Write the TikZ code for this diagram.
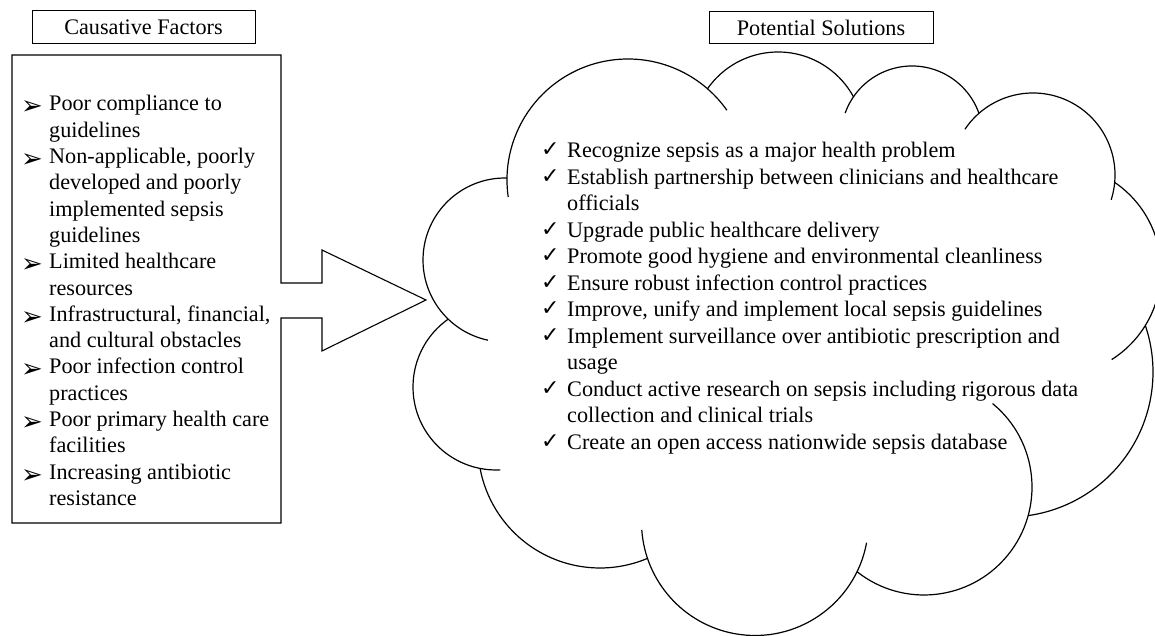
\documentclass[tikz,border=0pt]{standalone}
\usepackage{fontspec}
\setmainfont{Liberation Serif}
\newfontfamily\symfont{DejaVu Sans}
\begin{document}
\begin{tikzpicture}[x=1pt,y=1pt,
  frame/.style={draw=black, line width=1.1pt},
  cloudarc/.style={draw=black, line width=1.2pt},
  txt/.style={anchor=base west, inner sep=0pt, font=\fontsize{22.2}{26}\selectfont},
  arrowbullet/.style={anchor=base west, inner sep=0pt, font=\symfont\fontsize{26}{30}\selectfont},
  checkbullet/.style={anchor=base west, inner sep=0pt, font=\symfont\fontsize{22}{26}\selectfont},
  title/.style={draw=black, line width=1pt, minimum width=223pt, minimum height=33pt,
    inner sep=0pt, font=\fontsize{22.2}{26}\selectfont}]
\useasboundingbox (0,0) rectangle (1155,636);

% headings
\node[title] (cf) at (143.5,608.5) {Causative Factors};
\node[title, minimum width=224pt, minimum height=32pt] (ps) at (821,608) {Potential Solutions};

% list box with the block arrow cut into its right side
\draw[frame] (12,581) -- (281,581) -- (281,353) -- (322,353) -- (322,386)
  -- (426,336) -- (322,285) -- (322,318) -- (281,318) -- (281,113) -- (12,113) -- cycle;

% causes
\foreach \t [count=\k from 0] in {Poor compliance to, guidelines, {Non-applicable, poorly},
  developed and poorly, implemented sepsis, guidelines, Limited healthcare, resources,
  {Infrastructural, financial,}, and cultural obstacles, Poor infection control, practices,
  Poor primary health care, facilities, Increasing antibiotic, resistance}
  \node[txt] (cause\k) at (49,525-26.3*\k) {\t};
\foreach \k in {0,2,6,8,10,12,14}
  \node[arrowbullet] (ab\k) at (21,521-26.3*\k) {➢};

% cloud outline, one arc per lobe
\draw[cloudarc] (628,456) ++(188.1:121) arc[start angle=188.1, end angle=35.2, radius=121];
\draw[cloudarc] (778,498) ++(145.1:86) arc[start angle=145.1, end angle=28.5, radius=86];
\draw[cloudarc] (912,499) ++(160.3:71) arc[start angle=160.3, end angle=19.4, radius=71];
\draw[cloudarc] (1033,461) ++(146.1:82) arc[start angle=146.1, end angle=-17.6, radius=82];
\draw[cloudarc] (1055,366) ++(55.7:106) arc[start angle=55.7, end angle=-57.7, radius=106];
\draw[cloudarc] (1008,264) ++(18.7:145) arc[start angle=18.7, end angle=-82.0, radius=145];
\draw[cloudarc] (924,149) ++(50.6:108) arc[start angle=50.6, end angle=-128.3, radius=108];
\draw[cloudarc] (755,114) ++(-10.5:113.5) arc[start angle=-10.5, end angle=-176, radius=113.5];
\draw[cloudarc] (600,190) ++(-67.1:122) arc[start angle=-67.1, end angle=-169.4, radius=122];
\draw[cloudarc] (496,249) ++(125.4:83) arc[start angle=125.4, end angle=273, radius=83];
\draw[cloudarc] (505,376) ++(88.6:82) arc[start angle=88.6, end angle=258, radius=82];

% solutions
\foreach \t [count=\k from 0] in {Recognize sepsis as a major health problem,
  Establish partnership between clinicians and healthcare, officials,
  Upgrade public healthcare delivery, Promote good hygiene and environmental cleanliness,
  Ensure robust infection control practices, {Improve, unify and implement local sepsis guidelines},
  Implement surveillance over antibiotic prescription and, usage,
  Conduct active research on sepsis including rigorous data, collection and clinical trials,
  Create an open access nationwide sepsis database}
  \node[txt] (sol\k) at (567,478-26.5*\k) {\t};
\foreach \k in {0,1,3,4,5,6,7,9,11}
  \node[checkbullet] (ck\k) at (541,479-26.5*\k) {✓};
\end{tikzpicture}
\end{document}
